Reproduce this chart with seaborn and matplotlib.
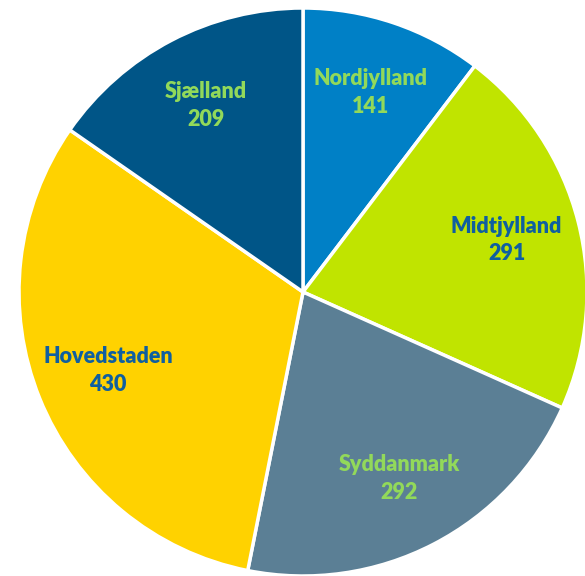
import matplotlib
matplotlib.use("Agg")
import matplotlib.pyplot as plt
import seaborn as sns

sns.set_theme(style="white")
plt.rcParams['font.family'] = ['Lato', 'DejaVu Sans']

# Data
regioner = ['Nordjylland', 'Midtjylland', 'Syddanmark', 'Hovedstaden', 'Sjælland']
antal = [141, 291, 292, 430, 209]
farver = ['#0080C6', '#C0E400', '#5B7F95', '#FFD200', '#005587']
tekstfarver = ['#92D95A', '#0F5FA0', '#92D95A', '#0F5FA0', '#92D95A']

fig = plt.figure(figsize=(5.85, 5.76), dpi=100)
ax = fig.add_axes([19 / 585, 0.0, 568 / 585, 568 / 576])

labels = [f"{r}\n{n}" for r, n in zip(regioner, antal)]
wedges, texts = ax.pie(
    antal, labels=labels, colors=farver, startangle=90, counterclock=False,
    labeldistance=0.74, radius=1,
    wedgeprops=dict(edgecolor='white', linewidth=2.5),
    textprops=dict(fontsize=15.5, fontweight='heavy', ha='center', va='center',
                   linespacing=1.4),
)
for t, c in zip(texts, tekstfarver):
    t.set_color(c)
    t.set_horizontalalignment('center')

ax.set_xlim(-1.0, 1.0)
ax.set_ylim(-1.0, 1.0)
ax.set_aspect('equal')
ax.axis('off')

fig.savefig('out.png', dpi=100)
